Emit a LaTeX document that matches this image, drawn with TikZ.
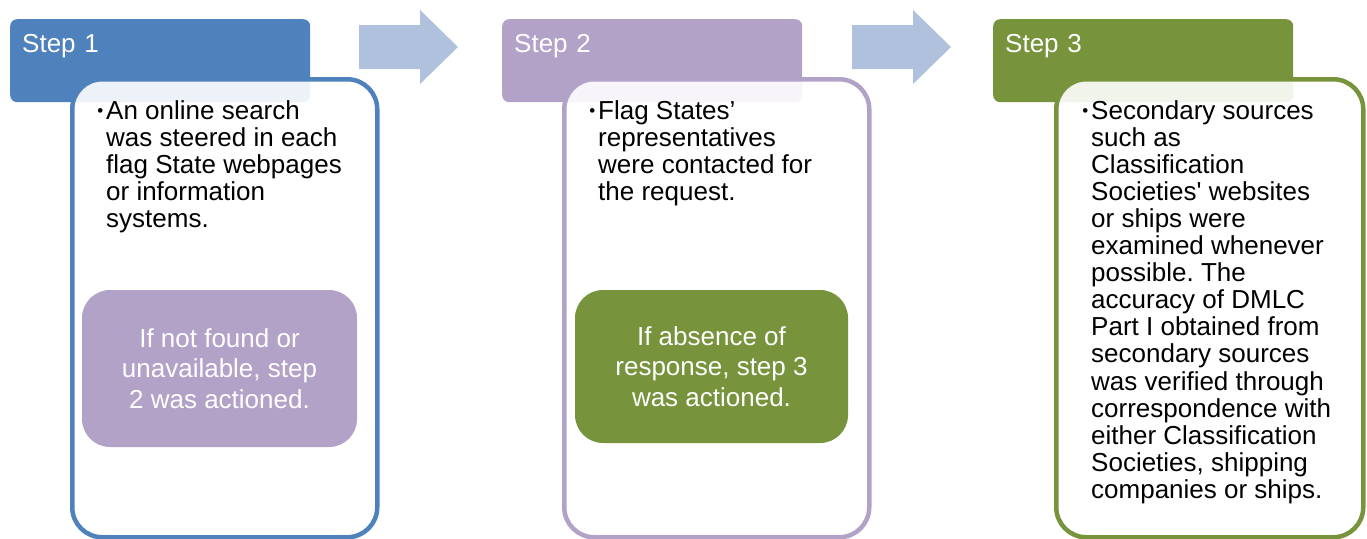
\documentclass[tikz,border=0pt]{standalone}
\usepackage{fontspec}
\setmainfont{Liberation Sans}
\usetikzlibrary{positioning}
\definecolor{stepblue}{HTML}{4F81BD}
\definecolor{steppurple}{HTML}{B3A2C7}
\definecolor{stepgreen}{HTML}{77933C}
\definecolor{arrowblue}{HTML}{B0C1DD}
\frenchspacing
\newcommand{\stepbullet}{\leavevmode\llap{\raisebox{2.5pt}{\fontsize{17}{17}\selectfont\textbullet}\hspace{3pt}}}

\begin{document}
\begin{tikzpicture}[x=1pt,y=-1pt,
    header/.style={anchor=north west, text width=276pt, align=left, inner xsep=12pt, inner ysep=0pt,
      text height=33pt, text depth=50pt, rounded corners=7pt, text=white, font=\fontsize{26}{28}\selectfont},
    panel/.style={anchor=north west, minimum width=305pt, minimum height=458pt, inner sep=0pt,
      rounded corners=30pt, line width=4.5pt, fill=white, fill opacity=0.9, draw opacity=1},
    note/.style={minimum width=275pt, minimum height=157pt, inner sep=0pt, rounded corners=28pt,
      text=white, align=center, font=\fontsize{26}{30.5}\selectfont},
    bodytext/.style={anchor=base west, inner sep=0pt, font=\fontsize{26}{27.1}\selectfont},
    nextarrow/.style={fill=arrowblue}]
    \useasboundingbox (0,0) rectangle (1367,538);
    % step headers
    \node[header, fill=stepblue] (h1) at (10,19) {Step 1};
    \node[header, fill=steppurple] (h2) at (502,19) {Step 2};
    \node[header, fill=stepgreen] (h3) at (993,19) {Step 3};
    % panels
    \node[panel, draw=stepblue] (p1) at (70,77) {};
    \node[panel, draw=steppurple] (p2) at (562,77) {};
    \node[panel, draw=stepgreen, minimum width=307pt] (p3) at (1054,77) {};
    % panel texts
    \node[bodytext] (t1) at (106,119) {\parbox[t]{255pt}{\raggedright\stepbullet An online search\\
      was steered in each\\ flag State webpages\\ or information\\ systems.}};
    \node[bodytext] (t2) at (598,119) {\parbox[t]{255pt}{\raggedright\stepbullet Flag States’\\
      representatives\\ were contacted for\\ the request.}};
    \node[bodytext] (t3) at (1091,119) {\parbox[t]{260pt}{\raggedright\stepbullet Secondary sources\\
      such as\\ Classification\\ Societies\textquotesingle{} websites\\ or ships were\\ examined whenever\\
      possible. The\\ accuracy of DMLC\\ Part I obtained from\\ secondary sources\\ was verified through\\
      correspondence with\\ either Classification\\ Societies, shipping\\ companies or ships.}};
    % notes
    \node[note, fill=steppurple] (n1) at (219.5,368.5) {If not found or\\ unavailable, step\\ 2 was actioned.};
    \node[note, fill=stepgreen, minimum width=273pt, minimum height=153pt] (n2) at (711.5,366.5)
      {If absence of\\ response, step 3\\ was actioned.};
    % arrows between steps
    \fill[nextarrow] (359,25) -- (420,25) -- (420,10) -- (458,47) -- (420,84) -- (420,69) -- (359,69) -- cycle;
    \fill[nextarrow] (852,25) -- (913,25) -- (913,10) -- (951,47) -- (913,84) -- (913,69) -- (852,69) -- cycle;
  \end{tikzpicture}
\end{document}
